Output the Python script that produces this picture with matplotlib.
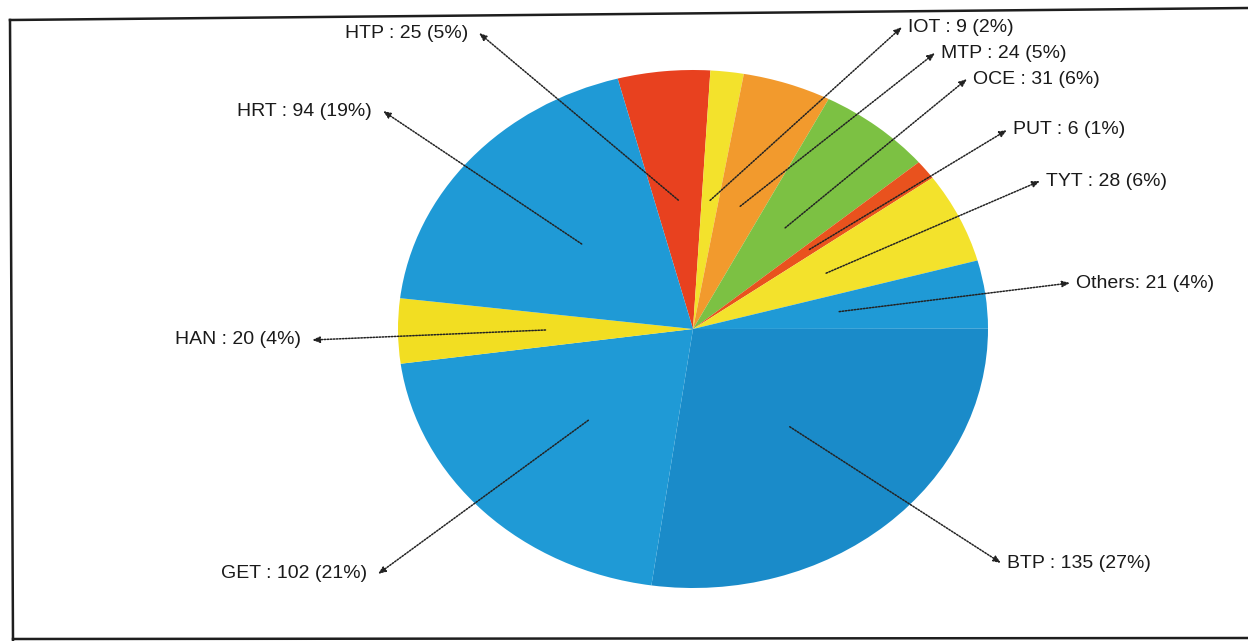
import matplotlib.pyplot as plt
import numpy as np

# slice data, clockwise starting from the top
names = ["HTP", "IOT", "MTP", "OCE", "PUT", "TYT", "Others", "BTP", "GET", "HAN", "HRT"]
counts = [25, 9, 24, 31, 6, 28, 21, 135, 102, 20, 94]
colors = ["#e8411f", "#f3e22c", "#f29a2d", "#7cc143", "#e9521e", "#f3e22c",
          "#1f9ad6", "#1a8bc9", "#1f9ad6", "#f2de22", "#1f9ad6"]

# layout: where each label's arrow head sits (pixels from top-left) and which side the text goes
label_anchor = [(479, 33), (902, 27), (935, 53), (967, 79), (1007, 130), (1040, 181),
                (1070, 283), (1001, 563), (378, 574), (312, 340), (383, 111)]
label_side = ["left", "right", "right", "right", "right", "right",
              "right", "right", "left", "left", "left"]

W, H = 1248, 641
CX, CY, RX, RY = 693, 329, 295, 259
START = 104.8


def to_data(x, y):
    return (x - CX) / RX, (CY - y) / RY


plt.rcParams["font.family"] = ["Liberation Sans", "DejaVu Sans"]
fig = plt.figure(figsize=(W / 100, H / 100), dpi=100)
ax = fig.add_axes([0, 0, 1, 1])

wedges, _ = ax.pie(counts, colors=colors, startangle=START, counterclock=False,
                   radius=1, wedgeprops=dict(linewidth=0), frame=True)
ax.set_xlim(-CX / RX, (W - CX) / RX)
ax.set_ylim(-(H - CY) / RY, CY / RY)
ax.set_aspect("auto")
ax.axis("off")

total = sum(counts)
for w, name, n, (lx, ly), side in zip(wedges, names, counts, label_anchor, label_side):
    mid = np.deg2rad((w.theta1 + w.theta2) / 2)
    sx, sy = 0.5 * np.cos(mid), 0.5 * np.sin(mid)
    tx, ty = to_data(lx, ly)
    ax.annotate("", xy=(tx, ty), xytext=(sx, sy),
                arrowprops=dict(arrowstyle="-|>,head_length=0.45,head_width=0.18",
                                color="#222222", lw=1.1, linestyle=(0, (1, 1)),
                                shrinkA=0, shrinkB=0))
    sep = ": " if name == "Others" else " : "
    text = f"{name}{sep}{n} ({round(n / total * 100)}%)"
    if side == "left":
        ax.text(*to_data(lx - 11, ly), text, ha="right", va="center", fontsize=14, color="#1a1a1a")
    else:
        ax.text(*to_data(lx + 6, ly), text, ha="left", va="center", fontsize=14, color="#1a1a1a")

# scanned frame around the chart
frame = [((10, 20), (1248, 8)), ((10, 20), (13, 641)), ((13, 639), (1248, 638))]
for (x0, y0), (x1, y1) in frame:
    p0, p1 = to_data(x0, y0), to_data(x1, y1)
    ax.plot([p0[0], p1[0]], [p0[1], p1[1]], color="#1e1e1e", lw=1.8, clip_on=False)

fig.savefig("out.png", dpi=100)
